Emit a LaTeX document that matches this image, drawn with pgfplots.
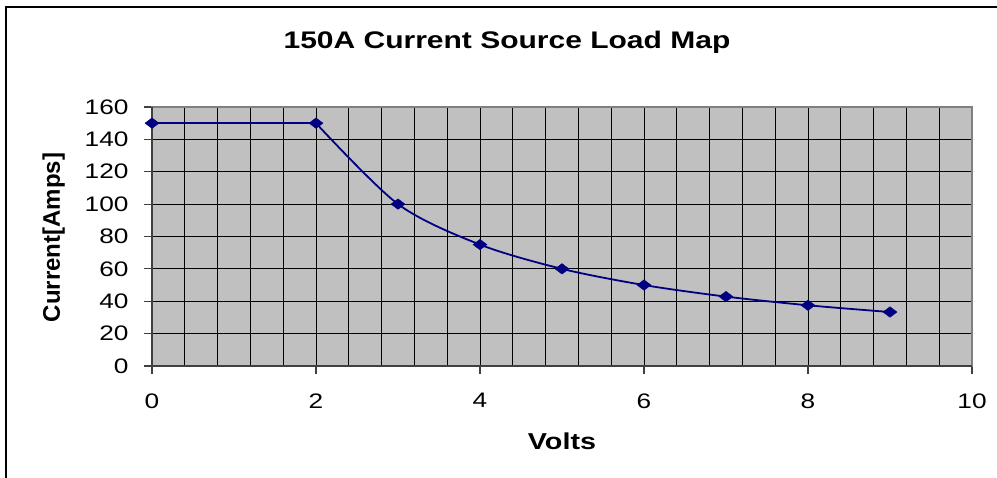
\documentclass[border=0pt]{standalone}
\usepackage{fontspec}
\setmainfont{Liberation Sans}[FakeStretch=1.25]
\newfontfamily\ylabfont{Liberation Sans}
\usepackage{pgfplots}
\pgfplotsset{compat=1.18}
\definecolor{plotbg}{HTML}{C0C0C0}
\definecolor{navyline}{HTML}{000080}
\definecolor{bordergray}{HTML}{808080}
\definecolor{axisdark}{HTML}{404040}
\begin{document}
\begin{tikzpicture}[x=1pt,y=1pt]
\useasboundingbox (0,0) rectangle (997,478);
\draw[line width=1.3pt,black] (6,0) -- (6,471) -- (997,471);
\node[anchor=base,font=\bfseries\fontsize{24}{28}\selectfont] at (507,429) {150A Current Source Load Map};
\node[anchor=base,font=\bfseries\fontsize{23}{27}\selectfont] at (562,28) {Volts};
\node[anchor=base,rotate=90,font=\ylabfont\bfseries\fontsize{24}{28}\selectfont] at (60,240.5) {Current[Amps]};
\begin{axis}[
  at={(152pt,112pt)}, anchor=south west,
  width=820pt, height=259pt, scale only axis,
  xmin=0, xmax=10, ymin=0, ymax=160,
  xtick={0,2,...,10}, ytick={0,20,...,160},
  minor x tick num=4,
  minor tick length=0pt, major tick length=8pt,
  tick align=outside, xtick pos=bottom, ytick pos=left,
  grid=both,
  major grid style={black, line width=1pt},
  minor grid style={black, line width=1pt},
  tick style={axisdark, line width=1.2pt},
  axis line style={bordergray, line width=1.5pt},
  axis background/.style={fill=plotbg},
  /pgf/number format/assume math mode=true,
  ticklabel style={font=\fontsize{21}{25}\selectfont},
  yticklabel style={xshift=-12pt},
  xticklabel style={yshift=-16pt},
  clip=false,
]
\addplot[navyline, line width=1.8pt, no marks] coordinates {(0,150) (2,150)};
\addplot[navyline, line width=1.8pt, smooth, no marks] coordinates {
 (2,150) (3,100) (4,75) (5,60) (6,50) (7,42.857) (8,37.5) (9,33.333)};
\addplot[only marks, mark=diamond*, mark size=7pt, mark options={rotate=90, fill=navyline, draw=navyline}] coordinates {
 (0,150) (2,150) (3,100) (4,75) (5,60) (6,50) (7,42.857) (8,37.5) (9,33.333)};
\draw[axisdark, line width=2pt] (rel axis cs:0,1) -- (rel axis cs:0,0) -- (rel axis cs:1,0);
\end{axis}
\end{tikzpicture}
\end{document}
